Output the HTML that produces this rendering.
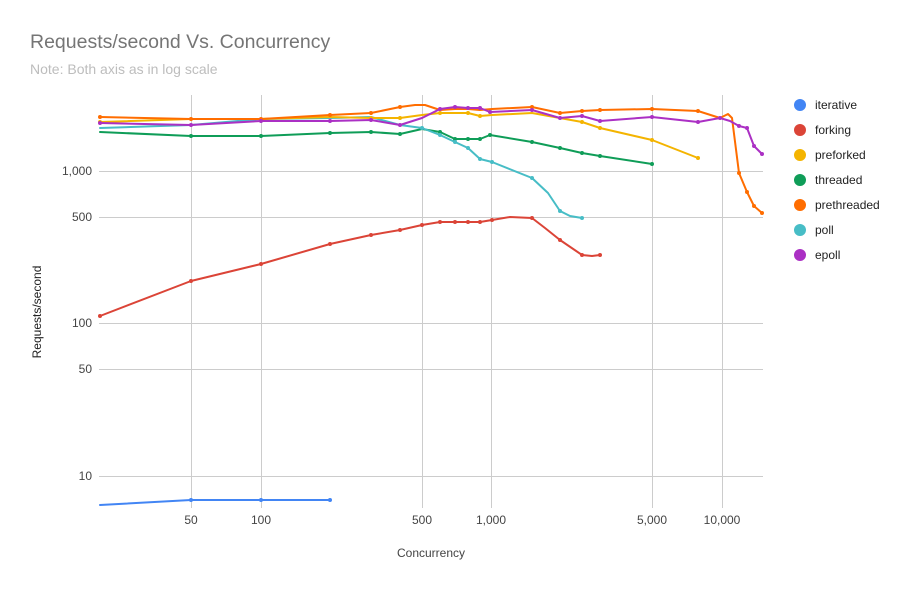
<!DOCTYPE html>
<html><head><meta charset="utf-8"><style>body{margin:0;background:#fff}svg{display:block}text{font-family:"Liberation Sans",Arial,sans-serif}</style></head>
<body>
<svg width="909" height="589" viewBox="0 0 909 589" xmlns="http://www.w3.org/2000/svg">
<rect width="909" height="589" fill="#fff"/>
<text x="30" y="48" font-size="19.5" fill="#757575">Requests/second Vs. Concurrency</text>
<text x="30" y="74" font-size="14" fill="#bdbdbd">Note: Both axis as in log scale</text>
<g stroke="#cccccc" stroke-width="1">
<line x1="99" x2="763" y1="171.5" y2="171.5"/><line x1="99" x2="763" y1="217.5" y2="217.5"/>
<line x1="99" x2="763" y1="323.5" y2="323.5"/><line x1="99" x2="763" y1="369.5" y2="369.5"/>
<line x1="99" x2="763" y1="476.5" y2="476.5"/>
<line x1="191.5" x2="191.5" y1="95" y2="508"/><line x1="261.5" x2="261.5" y1="95" y2="508"/>
<line x1="422.5" x2="422.5" y1="95" y2="508"/><line x1="491.5" x2="491.5" y1="95" y2="508"/>
<line x1="652.5" x2="652.5" y1="95" y2="508"/><line x1="722.5" x2="722.5" y1="95" y2="508"/>
</g>
<g font-size="12" fill="#444" text-anchor="end">
<text x="92" y="175">1,000</text><text x="92" y="221">500</text><text x="92" y="327">100</text><text x="92" y="373">50</text><text x="92" y="480">10</text>
</g>
<g font-size="12" fill="#444" text-anchor="middle">
<text x="191" y="524">50</text><text x="261" y="524">100</text><text x="422" y="524">500</text><text x="491" y="524">1,000</text><text x="652" y="524">5,000</text><text x="722" y="524">10,000</text>
<text x="431" y="557">Concurrency</text>
</g>
<text transform="translate(41,312) rotate(-90)" font-size="12" fill="#222" text-anchor="middle">Requests/second</text>
<g fill="none" stroke-width="2" stroke-linejoin="round" stroke-linecap="round">
<polyline stroke="#4285f4" points="100,505 191,500 210,500 261,500 330,500"/>
<polyline stroke="#db4437" points="100,316 191,281 261,264 330,244 371,235 400,230 422,225 440,222 455,222 468,222 480,222 492,220 510,217 532,218 545,228 560,240 582,255 592,256 600,255"/>
<polyline stroke="#0f9d58" points="100,132 191,136 261,136 330,133 371,132 400,134 422,129 440,132 455,139 468,139 480,139 490,135 532,142 560,148 582,153 600,156 652,164"/>
<polyline stroke="#47bdc6" points="100,128 191,125 261,119 330,118 371,117 400,125 422,128 440,135 455,142 468,148 480,159 492,162 532,178 548,193 560,211 570,216 582,218"/>
<polyline stroke="#f4b400" points="100,122 191,119 261,119 330,117 371,118 400,118 422,115 440,113 455,113 468,113 480,116 492,115 532,113 582,122 600,128 652,140 698,158"/>
<polyline stroke="#ff6d00" points="100,117 191,119 261,119 330,115 371,113 400,107 415,105 425,105 440,110 455,109 468,109 480,110 492,109 532,107 560,113 582,111 600,110 652,109 698,111 720,118 728,114 732,118 739,173 747,192 754,206 762,213"/>
<polyline stroke="#ab30c4" points="100,123 191,125 261,121 330,121 371,120 400,125 422,118 440,109 455,107 468,108 480,108 490,112 532,110 560,118 582,116 600,121 652,117 698,122 720,118 730,121 739,126 747,128 754,146 762,154"/>
</g>
<g fill="#db4437"><circle cx="100" cy="316" r="2"/><circle cx="191" cy="281" r="2"/><circle cx="261" cy="264" r="2"/><circle cx="330" cy="244" r="2"/><circle cx="371" cy="235" r="2"/><circle cx="400" cy="230" r="2"/><circle cx="422" cy="225" r="2"/><circle cx="440" cy="222" r="2"/><circle cx="455" cy="222" r="2"/><circle cx="468" cy="222" r="2"/><circle cx="480" cy="222" r="2"/><circle cx="492" cy="220" r="2"/><circle cx="532" cy="218" r="2"/><circle cx="560" cy="240" r="2"/><circle cx="582" cy="255" r="2"/><circle cx="600" cy="255" r="2"/></g>
<g fill="#4285f4"><circle cx="191" cy="500" r="2"/><circle cx="261" cy="500" r="2"/><circle cx="330" cy="500" r="2"/></g>
<g fill="#0f9d58"><circle cx="191" cy="136" r="2"/><circle cx="261" cy="136" r="2"/><circle cx="330" cy="133" r="2"/><circle cx="371" cy="132" r="2"/><circle cx="400" cy="134" r="2"/><circle cx="440" cy="132" r="2"/><circle cx="455" cy="139" r="2"/><circle cx="468" cy="139" r="2"/><circle cx="480" cy="139" r="2"/><circle cx="490" cy="135" r="2"/><circle cx="532" cy="142" r="2"/><circle cx="560" cy="148" r="2"/><circle cx="582" cy="153" r="2"/><circle cx="600" cy="156" r="2"/><circle cx="652" cy="164" r="2"/></g>
<g fill="#47bdc6"><circle cx="422" cy="128" r="2"/><circle cx="440" cy="135" r="2"/><circle cx="455" cy="142" r="2"/><circle cx="468" cy="148" r="2"/><circle cx="480" cy="159" r="2"/><circle cx="492" cy="162" r="2"/><circle cx="532" cy="178" r="2"/><circle cx="560" cy="211" r="2"/><circle cx="582" cy="218" r="2"/></g>
<g fill="#f4b400"><circle cx="100" cy="122" r="2"/><circle cx="371" cy="118" r="2"/><circle cx="400" cy="118" r="2"/><circle cx="440" cy="113" r="2"/><circle cx="468" cy="113" r="2"/><circle cx="480" cy="116" r="2"/><circle cx="582" cy="122" r="2"/><circle cx="600" cy="128" r="2"/><circle cx="652" cy="140" r="2"/><circle cx="698" cy="158" r="2"/></g>
<g fill="#ff6d00"><circle cx="100" cy="117" r="2"/><circle cx="191" cy="119" r="2"/><circle cx="261" cy="119" r="2"/><circle cx="330" cy="115" r="2"/><circle cx="371" cy="113" r="2"/><circle cx="400" cy="107" r="2"/><circle cx="532" cy="107" r="2"/><circle cx="560" cy="113" r="2"/><circle cx="582" cy="111" r="2"/><circle cx="600" cy="110" r="2"/><circle cx="652" cy="109" r="2"/><circle cx="698" cy="111" r="2"/><circle cx="739" cy="173" r="2"/><circle cx="747" cy="192" r="2"/><circle cx="754" cy="206" r="2"/><circle cx="762" cy="213" r="2"/></g>
<g fill="#ab30c4"><circle cx="100" cy="123" r="2"/><circle cx="191" cy="125" r="2"/><circle cx="261" cy="121" r="2"/><circle cx="330" cy="121" r="2"/><circle cx="371" cy="120" r="2"/><circle cx="400" cy="125" r="2"/><circle cx="440" cy="109" r="2"/><circle cx="455" cy="107" r="2"/><circle cx="468" cy="108" r="2"/><circle cx="480" cy="108" r="2"/><circle cx="490" cy="112" r="2"/><circle cx="532" cy="110" r="2"/><circle cx="560" cy="118" r="2"/><circle cx="582" cy="116" r="2"/><circle cx="600" cy="121" r="2"/><circle cx="652" cy="117" r="2"/><circle cx="698" cy="122" r="2"/><circle cx="720" cy="118" r="2"/><circle cx="739" cy="126" r="2"/><circle cx="747" cy="128" r="2"/><circle cx="754" cy="146" r="2"/><circle cx="762" cy="154" r="2"/></g>
<g font-size="12" fill="#222">
<circle cx="800" cy="105" r="6" fill="#4285f4"/><text x="815" y="109">iterative</text>
<circle cx="800" cy="130" r="6" fill="#db4437"/><text x="815" y="134">forking</text>
<circle cx="800" cy="155" r="6" fill="#f4b400"/><text x="815" y="159">preforked</text>
<circle cx="800" cy="180" r="6" fill="#0f9d58"/><text x="815" y="184">threaded</text>
<circle cx="800" cy="205" r="6" fill="#ff6d00"/><text x="815" y="209">prethreaded</text>
<circle cx="800" cy="230" r="6" fill="#47bdc6"/><text x="815" y="234">poll</text>
<circle cx="800" cy="255" r="6" fill="#ab30c4"/><text x="815" y="259">epoll</text>
</g>
</svg>
</body></html>
